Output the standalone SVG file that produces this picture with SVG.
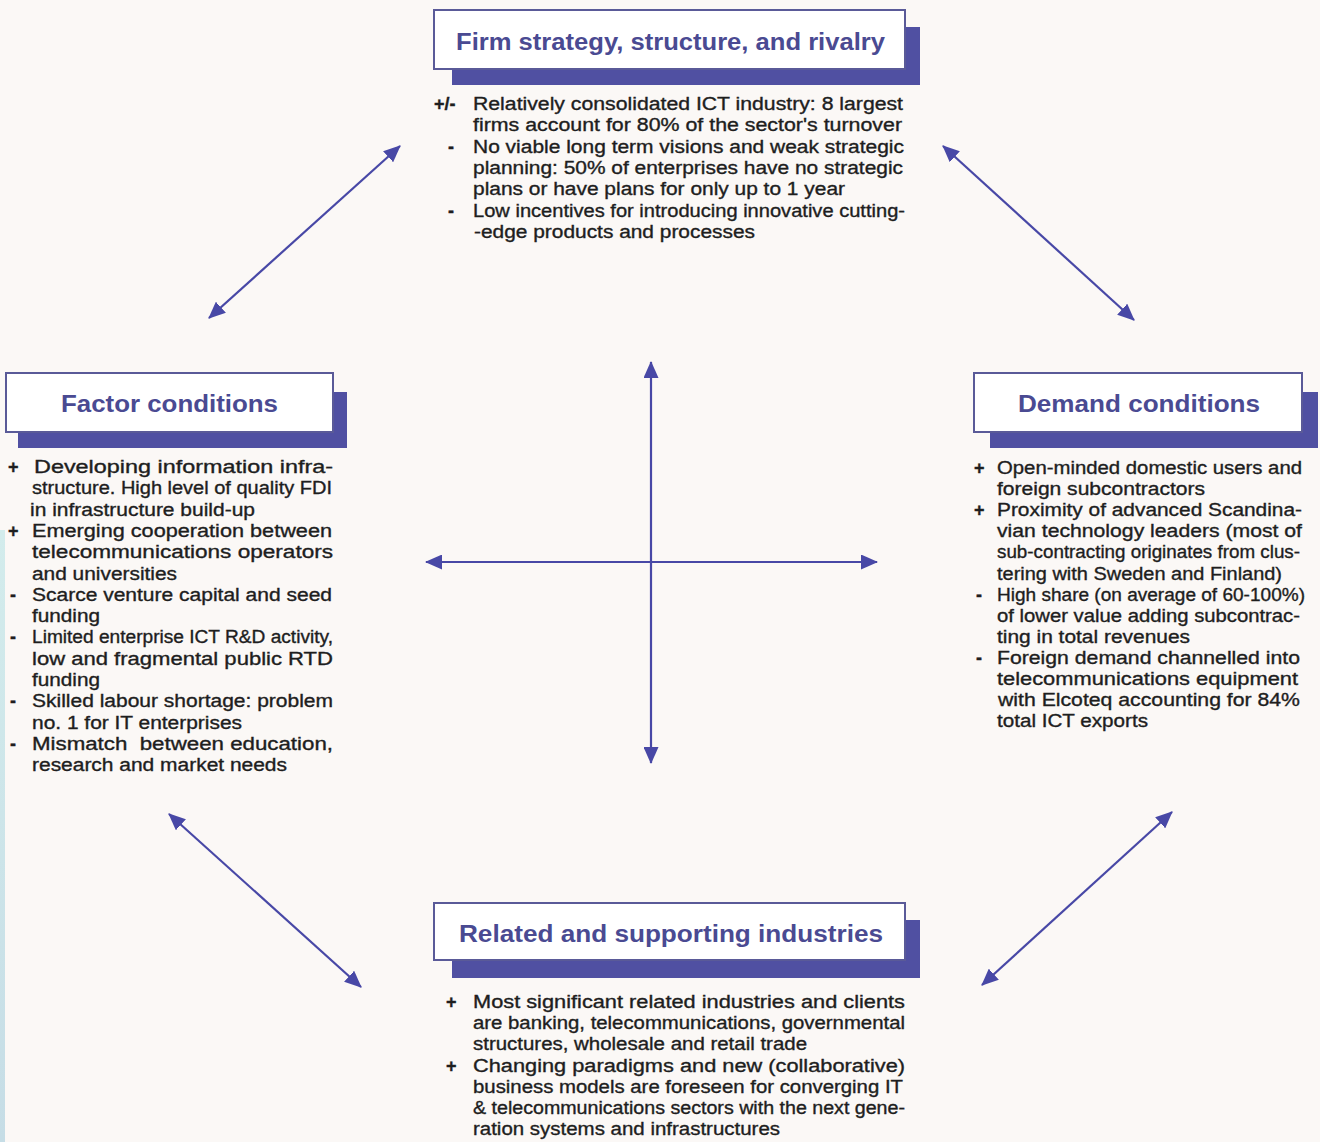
<svg xmlns="http://www.w3.org/2000/svg" width="1320" height="1142" viewBox="0 0 1320 1142">
<defs>
<marker id="ah" viewBox="0 0 17 15" refX="16" refY="7.5" markerWidth="17" markerHeight="15" markerUnits="userSpaceOnUse" orient="auto-start-reverse">
<path d="M0,0 L17,7.5 L0,15 Z" fill="#4848a6"/>
</marker>
<linearGradient id="strip" x1="0" y1="0" x2="0" y2="1">
<stop offset="0" stop-color="#d3ecec"/>
<stop offset="1" stop-color="#c6dde6"/>
</linearGradient>
</defs>
<style>
.shadow{fill:#5050a2}
.box{fill:#ffffff;stroke:#5a5a98;stroke-width:2}
.title{font-family:"Liberation Sans",Arial,sans-serif;font-weight:bold;font-size:23px;fill:#4a4a92}
.body{font-family:"Liberation Sans",Arial,sans-serif;font-size:18px;fill:#1e1e1e;stroke:#1e1e1e;stroke-width:0.35}
.bul{font-weight:bold}
.conn{stroke:#4848a6;stroke-width:2.2;fill:none;marker-start:url(#ah);marker-end:url(#ah)}
</style>
<rect x="0" y="0" width="1320" height="1142" fill="#fbf8f6"/>
<rect x="0" y="530" width="5" height="612" fill="url(#strip)"/>

<g id="connectors">
<line class="conn" x1="209" y1="318" x2="400" y2="146"/>
<line class="conn" x1="943" y1="146" x2="1134" y2="320"/>
<line class="conn" x1="169" y1="814" x2="361" y2="987"/>
<line class="conn" x1="982" y1="985" x2="1172" y2="812"/>
<line class="conn" x1="651" y1="362" x2="651" y2="763"/>
<line class="conn" x1="426" y1="562" x2="877" y2="562"/>
</g>

<g id="node-firm">
<rect class="shadow" x="452" y="27" width="468" height="58"/>
<rect class="box" x="434" y="10" width="471" height="59"/>
<text class="title" x="456" y="50" textLength="429" lengthAdjust="spacingAndGlyphs">Firm strategy, structure, and rivalry</text>
<text class="body bul" x="434" y="110">+/-</text>
<text class="body bul" x="448" y="152.6">-</text>
<text class="body bul" x="448" y="216.5">-</text>
<text class="body" x="473" y="110" textLength="430" lengthAdjust="spacingAndGlyphs">Relatively consolidated ICT industry: 8 largest</text>
<text class="body" x="473" y="131.3" textLength="429" lengthAdjust="spacingAndGlyphs">firms account for 80% of the sector's turnover</text>
<text class="body" x="473" y="152.6" textLength="431" lengthAdjust="spacingAndGlyphs">No viable long term visions and weak strategic</text>
<text class="body" x="473" y="173.9" textLength="430" lengthAdjust="spacingAndGlyphs">planning: 50% of enterprises have no strategic</text>
<text class="body" x="473" y="195.2" textLength="372" lengthAdjust="spacingAndGlyphs">plans or have plans for only up to 1 year</text>
<text class="body" x="473" y="216.5" textLength="432" lengthAdjust="spacingAndGlyphs">Low incentives for introducing innovative cutting-</text>
<text class="body" x="474" y="237.8" textLength="281" lengthAdjust="spacingAndGlyphs">-edge products and processes</text>
</g>

<g id="node-factor">
<rect class="shadow" x="18" y="392" width="329" height="56"/>
<rect class="box" x="6" y="373" width="327" height="59"/>
<text class="title" x="61" y="412" textLength="217" lengthAdjust="spacingAndGlyphs">Factor conditions</text>
<text class="body bul" x="8" y="473">+</text>
<text class="body bul" x="8" y="536.9">+</text>
<text class="body bul" x="10" y="600.8">-</text>
<text class="body bul" x="10" y="643.4">-</text>
<text class="body bul" x="10" y="707.3">-</text>
<text class="body bul" x="10" y="749.9">-</text>
<text class="body" x="34" y="473" textLength="299" lengthAdjust="spacingAndGlyphs">Developing information infra-</text>
<text class="body" x="32" y="494.3" textLength="300" lengthAdjust="spacingAndGlyphs">structure. High level of quality FDI</text>
<text class="body" x="30" y="515.6" textLength="225" lengthAdjust="spacingAndGlyphs">in infrastructure build-up</text>
<text class="body" x="32" y="536.9" textLength="300" lengthAdjust="spacingAndGlyphs">Emerging cooperation between</text>
<text class="body" x="32" y="558.2" textLength="301" lengthAdjust="spacingAndGlyphs">telecommunications operators</text>
<text class="body" x="32" y="579.5" textLength="145" lengthAdjust="spacingAndGlyphs">and universities</text>
<text class="body" x="32" y="600.8" textLength="300" lengthAdjust="spacingAndGlyphs">Scarce venture capital and seed</text>
<text class="body" x="32" y="622.1" textLength="68" lengthAdjust="spacingAndGlyphs">funding</text>
<text class="body" x="32" y="643.4" textLength="301" lengthAdjust="spacingAndGlyphs">Limited enterprise ICT R&amp;D activity,</text>
<text class="body" x="32" y="664.7" textLength="301" lengthAdjust="spacingAndGlyphs">low and fragmental public RTD</text>
<text class="body" x="32" y="686" textLength="68" lengthAdjust="spacingAndGlyphs">funding</text>
<text class="body" x="32" y="707.3" textLength="301" lengthAdjust="spacingAndGlyphs">Skilled labour shortage: problem</text>
<text class="body" x="32" y="728.6" textLength="210" lengthAdjust="spacingAndGlyphs">no. 1 for IT enterprises</text>
<text class="body" x="32" y="749.9" textLength="301" lengthAdjust="spacingAndGlyphs" xml:space="preserve">Mismatch  between education,</text>
<text class="body" x="32" y="771.2" textLength="255" lengthAdjust="spacingAndGlyphs">research and market needs</text>
</g>

<g id="node-demand">
<rect class="shadow" x="990" y="392" width="328" height="56"/>
<rect class="box" x="974" y="373" width="328" height="59"/>
<text class="title" x="1018" y="412" textLength="242" lengthAdjust="spacingAndGlyphs">Demand conditions</text>
<text class="body bul" x="974" y="474">+</text>
<text class="body bul" x="974" y="516.2">+</text>
<text class="body bul" x="976" y="600.6">-</text>
<text class="body bul" x="976" y="663.9">-</text>
<text class="body" x="997" y="474" textLength="305" lengthAdjust="spacingAndGlyphs">Open-minded domestic users and</text>
<text class="body" x="997" y="495.1" textLength="208" lengthAdjust="spacingAndGlyphs">foreign subcontractors</text>
<text class="body" x="997" y="516.2" textLength="305" lengthAdjust="spacingAndGlyphs">Proximity of advanced Scandina-</text>
<text class="body" x="997" y="537.3" textLength="305" lengthAdjust="spacingAndGlyphs">vian technology leaders (most of</text>
<text class="body" x="997" y="558.4" textLength="303" lengthAdjust="spacingAndGlyphs">sub-contracting originates from clus-</text>
<text class="body" x="997" y="579.5" textLength="285" lengthAdjust="spacingAndGlyphs">tering with Sweden and Finland)</text>
<text class="body" x="997" y="600.6" textLength="308" lengthAdjust="spacingAndGlyphs">High share (on average of 60-100%)</text>
<text class="body" x="997" y="621.7" textLength="303" lengthAdjust="spacingAndGlyphs">of lower value adding subcontrac-</text>
<text class="body" x="997" y="642.8" textLength="193" lengthAdjust="spacingAndGlyphs">ting in total revenues</text>
<text class="body" x="997" y="663.9" textLength="303" lengthAdjust="spacingAndGlyphs">Foreign demand channelled into</text>
<text class="body" x="997" y="685" textLength="301" lengthAdjust="spacingAndGlyphs">telecommunications equipment</text>
<text class="body" x="998" y="706.1" textLength="302" lengthAdjust="spacingAndGlyphs">with Elcoteq accounting for 84%</text>
<text class="body" x="997" y="727.2" textLength="151" lengthAdjust="spacingAndGlyphs">total ICT exports</text>
</g>

<g id="node-related">
<rect class="shadow" x="452" y="920" width="468" height="58"/>
<rect class="box" x="434" y="903" width="471" height="57"/>
<text class="title" x="459" y="942" textLength="424" lengthAdjust="spacingAndGlyphs">Related and supporting industries</text>
<text class="body bul" x="446" y="1008">+</text>
<text class="body bul" x="446" y="1071.6">+</text>
<text class="body" x="473" y="1008" textLength="432" lengthAdjust="spacingAndGlyphs">Most significant related industries and clients</text>
<text class="body" x="473" y="1029.2" textLength="432" lengthAdjust="spacingAndGlyphs">are banking, telecommunications, governmental</text>
<text class="body" x="473" y="1050.4" textLength="334" lengthAdjust="spacingAndGlyphs">structures, wholesale and retail trade</text>
<text class="body" x="473" y="1071.6" textLength="432" lengthAdjust="spacingAndGlyphs">Changing paradigms and new (collaborative)</text>
<text class="body" x="473" y="1092.8" textLength="430" lengthAdjust="spacingAndGlyphs">business models are foreseen for converging IT</text>
<text class="body" x="473" y="1114" textLength="432" lengthAdjust="spacingAndGlyphs">&amp; telecommunications sectors with the next gene-</text>
<text class="body" x="473" y="1135.2" textLength="307" lengthAdjust="spacingAndGlyphs">ration systems and infrastructures</text>
</g>
</svg>
